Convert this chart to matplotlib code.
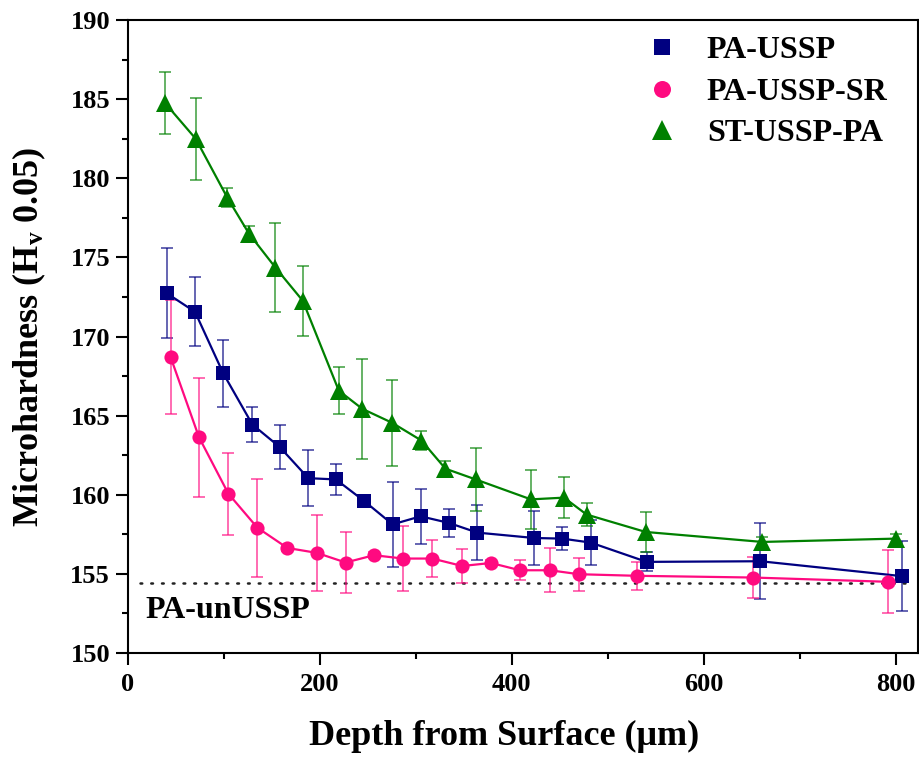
import matplotlib
matplotlib.use("Agg")
import matplotlib.pyplot as plt
from matplotlib.ticker import MultipleLocator

plt.rcParams["font.family"] = ["Liberation Serif", "DejaVu Serif"]
plt.rcParams["font.weight"] = "bold"
plt.rcParams["mathtext.fontset"] = "custom"
plt.rcParams["mathtext.rm"] = "Liberation Serif:bold"
plt.rcParams["mathtext.it"] = "Liberation Serif:bold"
plt.rcParams["mathtext.bf"] = "Liberation Serif:bold"

# Microhardness depth profiles (depth in µm, hardness in HV0.05)
pa_ussp_depth = [40.8, 70.3, 99.7, 130, 158.8, 188.2, 217, 246.5, 276, 305.2,
                 334.7, 364.2, 423.2, 452.6, 482.2, 540.5, 659, 806]
pa_ussp_hv = [172.74, 171.56, 167.67, 164.44, 163.0, 161.05, 160.97, 159.6, 158.13,
              158.64, 158.22, 157.61, 157.27, 157.23, 156.98, 155.76, 155.8, 154.86]
pa_ussp_err = [2.84, 2.18, 2.1, 1.1, 1.4, 1.75, 1.0, 0.2, 2.7, 1.75,
               0.9, 1.75, 1.7, 0.75, 1.4, 0.6, 2.4, 2.2]

pa_ussp_sr_depth = [45, 74.4, 105, 135.2, 166.4, 197, 227.1, 256.6, 287.1, 317.3,
                    348.5, 378.4, 408.6, 439.8, 470, 530, 651.5, 792]
pa_ussp_sr_hv = [168.68, 163.64, 160.07, 157.92, 156.64, 156.33, 155.72, 156.18, 155.97,
                 155.97, 155.5, 155.69, 155.23, 155.23, 154.98, 154.88, 154.77, 154.5]
pa_ussp_sr_err = [3.6, 3.76, 2.58, 3.1, 0.2, 2.4, 1.9, 0.2, 2.07, 1.15,
                  1.1, 0.2, 0.63, 1.4, 1.05, 0.87, 1.3, 2.0]

st_ussp_pa_depth = [39, 71, 104, 126.5, 154, 182.5, 220, 244.5, 275.5, 306,
                    331, 362.5, 420, 454.5, 478, 539.5, 661, 800]
st_ussp_pa_hv = [184.76, 182.5, 178.77, 176.5, 174.36, 172.26, 166.58, 165.43, 164.55,
                 163.43, 161.65, 160.97, 159.71, 159.82, 158.75, 157.65, 157.02, 157.23]
st_ussp_pa_err = [1.95, 2.6, 0.6, 0.5, 2.8, 2.2, 1.5, 3.15, 2.7, 0.63,
                  0.5, 2.0, 1.85, 1.3, 0.7, 1.25, 0.3, 0.3]

baseline_hv = 154.43
baseline_label = "PA-unUSSP"

series = [
    ("PA-USSP", pa_ussp_depth, pa_ussp_hv, pa_ussp_err, "#000080", "s", 9.4),
    ("PA-USSP-SR", pa_ussp_sr_depth, pa_ussp_sr_hv, pa_ussp_sr_err, "#FF0A80", "o", 10.2),
    ("ST-USSP-PA", st_ussp_pa_depth, st_ussp_pa_hv, st_ussp_pa_err, "#008000", "^", 12.5),
]

fig = plt.figure(figsize=(9.2, 7.58), dpi=100)
ax = fig.add_axes([0.1386, 0.1385, 0.8592, 0.835])

ax.plot([13, 815], [baseline_hv, baseline_hv], color="#222222", lw=1.8,
        linestyle=(0, (0.7, 3.6)), dash_capstyle="round", zorder=1)

handles = []
for name, x, y, e, col, mk, ms in series:
    ax.errorbar(x, y, yerr=e, fmt="none", ecolor=col, alpha=0.7, elinewidth=1.2,
                capsize=4.3, capthick=1.2, zorder=2)
    ax.plot(x, y, color=col, lw=1.6, zorder=3)
    h, = ax.plot(x, y, linestyle="none", marker=mk, ms=ms, color=col,
                 markeredgewidth=0, zorder=4, label=name)
    handles.append(h)

ax.text(18.2, 152.2, baseline_label, fontsize=23, fontweight="bold", va="baseline", ha="left")

ax.set_xlim(0, 823)
ax.set_ylim(150, 190)
ax.xaxis.set_major_locator(MultipleLocator(200))
ax.xaxis.set_minor_locator(MultipleLocator(100))
ax.yaxis.set_major_locator(MultipleLocator(5))
ax.yaxis.set_minor_locator(MultipleLocator(2.5))
ax.tick_params(which="major", direction="out", length=8.6, width=1.5, labelsize=19, pad=4)
ax.tick_params(which="minor", direction="out", length=4.3, width=1.5)
ax.tick_params(axis="x", which="major", pad=6)
for s in ax.spines.values():
    s.set_linewidth(1.5)

ax.set_xlabel("Depth from Surface (\u03bcm)", fontsize=26, fontweight="bold")
ax.xaxis.set_label_coords(0.477, -0.105)
ax.set_ylabel("Microhardness (H$_\\mathregular{v}$ 0.05)", fontsize=26, fontweight="bold")
ax.yaxis.set_label_coords(-0.100, 0.5)

leg = ax.legend(handles=handles, loc="upper left", bbox_to_anchor=(0.644, 0.995),
                frameon=False, fontsize=23, handlelength=0.8, handletextpad=1.0,
                labelspacing=0.38, markerscale=1.2, borderaxespad=0)

fig.savefig("out.png", dpi=100)
